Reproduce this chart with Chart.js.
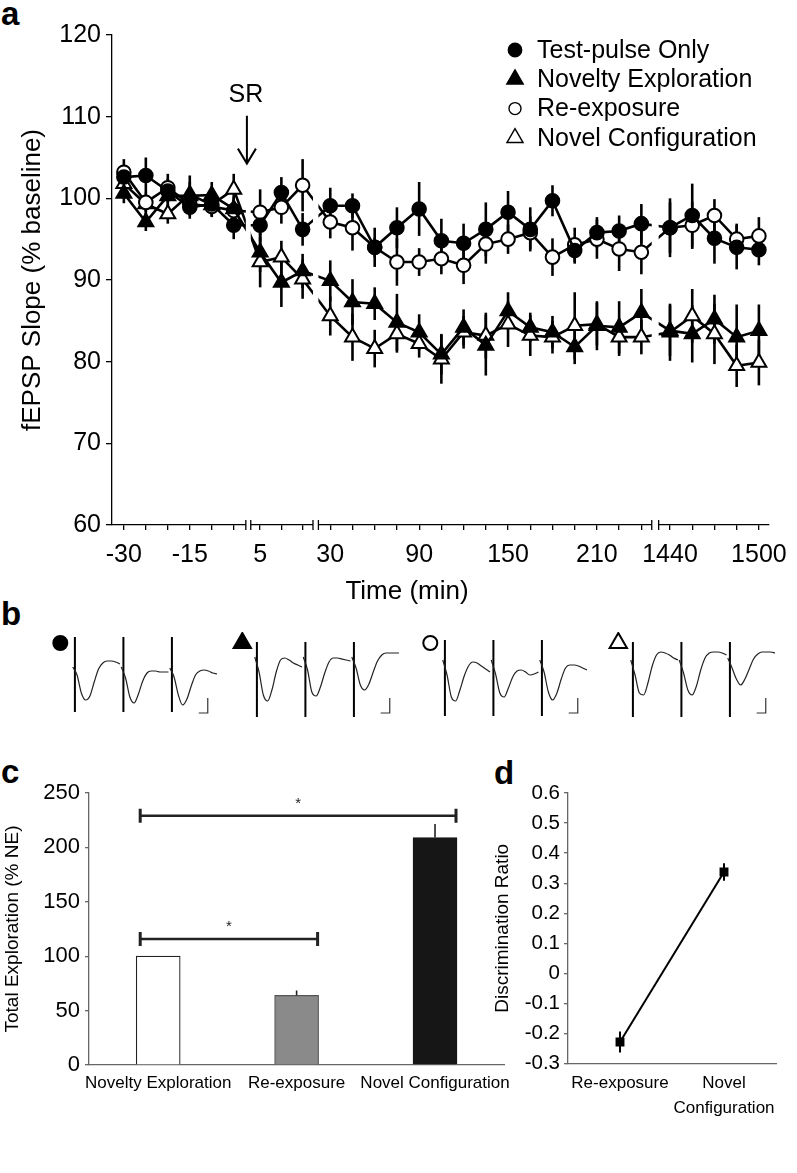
<!DOCTYPE html>
<html>
<head>
<meta charset="utf-8">
<script src="https://cdn.jsdelivr.net/npm/chart.js@4.4.1/dist/chart.umd.min.js"></script>
<style>
  body { margin: 0; background: #fff; width: 797px; height: 1173px; position: relative; overflow: hidden;
         font-family: "Liberation Sans", Arial, sans-serif; }
  canvas { position: absolute; }
  .lab { position: absolute; font-weight: bold; font-size: 33px; line-height: 33px; color: #000; }
</style>
</head>
<body>
<div class="lab" style="left:1px;top:-3px">a</div>
<div class="lab" style="left:1px;top:597px">b</div>
<div class="lab" style="left:1px;top:755px">c</div>
<div class="lab" style="left:494px;top:756px">d</div>

<canvas id="chartA" style="left:0;top:0" width="797" height="610"></canvas>
<canvas id="trace1" style="left:47px;top:632px" width="176" height="90"></canvas>
<canvas id="trace2" style="left:229px;top:632px" width="176" height="90"></canvas>
<canvas id="trace3" style="left:417px;top:632px" width="176" height="90"></canvas>
<canvas id="trace4" style="left:605px;top:632px" width="176" height="90"></canvas>
<canvas id="chartC" style="left:0;top:760px" width="520" height="340"></canvas>
<canvas id="chartD" style="left:470px;top:760px" width="327" height="380"></canvas>

<script>
const FONT = '"Liberation Sans", Arial, sans-serif';
Chart.defaults.font.family = FONT;
Chart.defaults.color = '#000';
Chart.defaults.animation = false;

// ---- panel a: fEPSP slope over time ----
const times = [-30, -25, -20, -15, -10, -5, 5, 10, 15,
  30, 45, 60, 75, 90, 105, 120, 135, 150, 165, 180, 195, 210, 225, 240,
  1440, 1455, 1470, 1485, 1500];

const testPulse    = [102.6, 102.8, 100.9, 98.9, 99.3, 96.7, 96.7, 100.7, 96.2,
  99.1, 99.1, 94.0, 96.4, 98.7, 94.8, 94.5, 96.2, 98.3, 96.2, 99.7, 93.6, 95.8, 96.0, 96.9,
  96.4, 97.9, 95.1, 94.0, 93.7];
const testPulseErr = [1.5, 2.2, 1.5, 1.4, 1.3, 1.7, 2.0, 1.9, 2.0,
  2.2, 1.5, 1.2, 2.5, 3.3, 2.7, 2.4, 3.3, 2.6, 2.7, 1.9, 1.6, 1.9, 1.9, 2.4,
  3.1, 3.9, 3.1, 2.7, 1.9];

const noveltyExp    = [100.6, 97.1, 100.3, 100.3, 100.4, 98.7, 93.4, 89.7, 91.1,
  89.9, 87.3, 87.1, 84.8, 83.6, 80.9, 84.2, 82.0, 86.2, 84.2, 83.6, 81.8, 84.4, 84.2, 86.0,
  83.8, 83.4, 85.2, 83.0, 83.8];
const noveltyExpErr = [1.2, 1.1, 1.3, 2.5, 1.6, 1.5, 2.4, 3.0, 2.1,
  2.5, 2.8, 2.0, 3.5, 2.2, 2.5, 2.2, 3.7, 2.3, 1.8, 2.0, 2.1, 3.0, 3.2, 2.9,
  3.1, 3.5, 3.0, 4.0, 3.2];

const reExposure    = [103.2, 99.5, 101.3, 99.3, 99.0, 98.5, 98.3, 98.9, 101.6,
  97.1, 96.4, 94.0, 92.2, 92.2, 92.6, 91.8, 94.4, 95.0, 95.8, 92.8, 94.3, 95.0, 93.8, 93.4,
  96.4, 96.7, 97.9, 95.0, 95.4];
const reExposureErr = [1.6, 1.2, 1.7, 1.2, 1.2, 1.2, 2.8, 2.0, 3.2,
  2.0, 2.8, 2.4, 2.9, 1.7, 1.9, 2.3, 2.4, 1.8, 2.0, 2.3, 2.1, 2.4, 2.7, 2.7,
  3.6, 2.9, 2.0, 1.9, 2.3];

const novelConfig    = [101.8, 99.3, 98.1, 100.5, 99.2, 101.1, 92.2, 92.8, 90.1,
  85.6, 83.0, 81.6, 83.4, 82.2, 80.3, 83.6, 83.2, 84.6, 83.2, 83.0, 84.4, 84.6, 83.0, 83.0,
  83.6, 85.6, 83.4, 79.5, 79.9];
const novelConfigErr = [1.5, 1.2, 1.2, 1.5, 1.5, 1.9, 3.1, 2.0, 2.4,
  2.4, 2.9, 2.3, 2.3, 1.7, 3.0, 2.0, 2.8, 2.8, 2.5, 2.0, 4.1, 2.6, 2.3, 2.1,
  3.5, 3.3, 3.7, 2.6, 2.8];

const tickTimes = [-30, -25, -20, -15, -10, -5, 5, 10, 15,
  30, 45, 60, 75, 90, 105, 120, 135, 150, 165, 180, 195, 210, 225, 240,
  1440, 1455, 1470, 1485, 1500];
const labelledTimes = [-30, -15, 5, 30, 90, 150, 210, 1440, 1500];
const srTime = -2;

// broken time axis: each piece has its own scale
const segments = [
  { from: -30, to: -2, start: 124, perMin: 4.45 },
  { from: 5, to: 15, start: 262, perMin: 4.3 },
  { from: 30, to: 240, start: 333, perMin: 1.5 },
  { from: 1440, to: 1500, start: 677, perMin: 1.5 }
];
const breakGaps = [[247.5, 252.5], [315.5, 321], [658.5, 665.5]];

function tpos(t) {
  const s = segments.find(s => t >= s.from && t <= s.to);
  return s.start + (t - s.from) * s.perMin;
}

const seriesA = [
  { label: 'Test-pulse Only', values: testPulse, err: testPulseErr, style: 'circle', fill: '#000' },
  { label: 'Novelty Exploration', values: noveltyExp, err: noveltyExpErr, style: 'triangle', fill: '#000' },
  { label: 'Re-exposure', values: reExposure, err: reExposureErr, style: 'circle', fill: '#fff' },
  { label: 'Novel Configuration', values: novelConfig, err: novelConfigErr, style: 'triangle', fill: '#fff' }
];

const errorBarsA = {
  id: 'errorBarsA',
  beforeDatasetsDraw(chart) {
    const { ctx, scales: { y } } = chart;
    ctx.save();
    ctx.strokeStyle = '#000';
    ctx.lineWidth = 2.6;
    chart.data.datasets.forEach((ds, di) => {
      chart.getDatasetMeta(di).data.forEach((pt, i) => {
        const v = ds.data[i].y, e = ds.errors[i];
        ctx.beginPath();
        ctx.moveTo(pt.x, y.getPixelForValue(v + e));
        ctx.lineTo(pt.x, y.getPixelForValue(v - e));
        ctx.stroke();
      });
    });
    ctx.restore();
  }
};

const brokenAxis = {
  id: 'brokenAxis',
  afterDatasetsDraw(chart) {
    const { ctx, chartArea, scales: { x, y } } = chart;
    const top = y.getPixelForValue(104);
    ctx.save();
    ctx.fillStyle = '#fff';
    breakGaps.forEach(([a, b]) => {
      const xa = x.getPixelForValue(a), xb = x.getPixelForValue(b);
      ctx.fillRect(xa, top, xb - xa, chartArea.bottom + 2 - top);
    });
    ctx.strokeStyle = '#000';
    ctx.lineWidth = 1.3;
    breakGaps.forEach(gap => {
      gap.forEach(v => {
        const px = x.getPixelForValue(v);
        ctx.beginPath();
        ctx.moveTo(px, chartArea.bottom - 5);
        ctx.lineTo(px, chartArea.bottom + 5);
        ctx.stroke();
      });
    });
    ctx.restore();
  }
};

const extrasA = {
  id: 'extrasA',
  afterDraw(chart) {
    const { ctx, chartArea, scales: { x, y } } = chart;
    ctx.save();
    // legend
    ctx.font = '25px ' + FONT;
    ctx.textBaseline = 'middle';
    const radii = [6.7, 9.5, 6, 9.3];
    chart.data.datasets.forEach((ds, i) => {
      const yy = 50 + i * 29.3;
      ctx.fillStyle = ds.pointBackgroundColor;
      ctx.strokeStyle = '#000';
      ctx.lineWidth = 1.4;
      Chart.helpers.drawPoint(ctx, { pointStyle: ds.pointStyle, radius: radii[i], borderWidth: 1.4, rotation: 0 }, 515, yy);
      ctx.fillStyle = '#000';
      ctx.fillText(ds.label, 537, yy + 1);
    });
    // SR marker
    const xs = x.getPixelForValue(tpos(srTime));
    ctx.textAlign = 'center';
    ctx.fillText('SR', xs - 1, y.getPixelForValue(112.7));
    const y1 = y.getPixelForValue(110.1), y2 = y.getPixelForValue(104.25);
    ctx.lineWidth = 2;
    ctx.beginPath();
    ctx.moveTo(xs, y1); ctx.lineTo(xs, y2);
    ctx.moveTo(xs - 9, y2 - 15); ctx.lineTo(xs, y2); ctx.lineTo(xs + 9, y2 - 15);
    ctx.stroke();
    // x axis title
    ctx.font = '26px ' + FONT;
    ctx.fillText('Time (min)', chartArea.left + 295, 592);
    ctx.restore();
  }
};

new Chart(document.getElementById('chartA'), {
  type: 'line',
  data: {
    datasets: seriesA.map(s => ({
      label: s.label,
      data: times.map((t, i) => ({ x: tpos(t), y: s.values[i] })),
      errors: s.err,
      borderColor: '#000',
      borderWidth: 2.6,
      pointStyle: s.style,
      pointRadius: s.style === 'circle' ? 6.8 : 8.6,
      pointBackgroundColor: s.fill,
      pointBorderColor: '#000',
      pointBorderWidth: 2,
      tension: 0
    }))
  },
  options: {
    responsive: false,
    events: [],
    layout: { padding: { top: 35, right: 20, left: 0, bottom: 0 } },
    plugins: { legend: { display: false }, tooltip: { enabled: false } },
    scales: {
      x: {
        type: 'linear', min: 112, max: 777,
        afterBuildTicks: scale => { scale.ticks = tickTimes.map(t => ({ value: tpos(t) })); },
        afterFit: scale => { scale.height = 85; },
        ticks: {
          autoSkip: false, maxRotation: 0, padding: 10,
          font: { size: 25 },
          callback: (v, i) => labelledTimes.includes(tickTimes[i]) ? String(tickTimes[i]) : ''
        },
        grid: { drawOnChartArea: false, tickLength: 5, color: '#000', lineWidth: 1.3 },
        border: { color: '#000', width: 1.3 }
      },
      y: {
        min: 60, max: 120,
        afterFit: scale => { scale.width = 112; },
        ticks: { stepSize: 10, padding: 5, font: { size: 25 } },
        grid: { drawOnChartArea: false, tickLength: 6, color: '#000', lineWidth: 1.3 },
        border: { color: '#000', width: 1.3 },
        title: { display: true, text: 'fEPSP Slope (% baseline)', font: { size: 26 }, padding: { top: 17, bottom: 0 } }
      }
    }
  },
  plugins: [errorBarsA, brokenAxis, extrasA]
});

// ---- panel b: example sweeps (baseline, early, 24 h) per group, in mV ----
const tracesTestPulse = [
  [-0.35, -0.75, -1.65, -2.0, -1.8, -1.1, -0.45, -0.15, -0.05, -0.05, -0.1, -0.2],
  [-0.35, -0.9, -1.85, -2.15, -1.7, -1.05, -0.65, -0.55, -0.55, -0.6, -0.6, -0.6],
  [-0.4, -0.85, -1.75, -2.25, -1.95, -1.3, -0.75, -0.55, -0.5, -0.55, -0.65, -0.7]
];
const tracesNovelty = [
  [0.15, -0.6, -1.75, -2.05, -1.5, -0.6, 0, 0.1, 0, -0.15, -0.25, -0.35],
  [0.15, -0.5, -1.6, -1.8, -1.35, -0.65, -0.1, 0.1, 0.1, 0.05, 0, -0.05],
  [0.15, -0.4, -1.25, -1.5, -1.2, -0.6, -0.05, 0.25, 0.35, 0.35, 0.35, 0.35]
];
const tracesReExposure = [
  [0, -0.75, -1.85, -2.05, -1.5, -0.8, -0.3, -0.1, -0.15, -0.3, -0.45, -0.6],
  [0, -0.7, -1.65, -1.85, -1.4, -0.85, -0.55, -0.5, -0.6, -0.75, -0.7, -0.6],
  [0, -0.6, -1.6, -2.0, -1.65, -0.95, -0.4, -0.25, -0.25, -0.3, -0.4, -0.5]
];
const tracesNovelConfig = [
  [0, -0.75, -1.65, -1.75, -1.15, -0.3, 0.25, 0.4, 0.35, 0.25, 0.1, 0],
  [0, -0.65, -1.5, -1.75, -1.3, -0.5, 0.1, 0.35, 0.4, 0.4, 0.35, 0.25],
  [0.1, -0.4, -0.95, -1.25, -0.95, -0.45, 0.05, 0.3, 0.4, 0.4, 0.4, 0.35]
];
const artifactTop = [1.15, 0.9, 1.0, 0.9];
const artifactBottom = [-2.6, -2.85, -2.8, -2.85];
const sampleMs = 1;
const sweepStrideMs = 11.3;
const artifactMs = 0.5;
const scaleBarMs = 2.1;
const scaleBarMv = 0.75;

const traceExtras = {
  id: 'traceExtras',
  afterDraw(chart, args, opts) {
    const { ctx, scales: { x, y } } = chart;
    ctx.save();
    ctx.fillStyle = opts.fill;
    ctx.strokeStyle = '#000';
    ctx.lineWidth = 2;
    Chart.helpers.drawPoint(ctx, { pointStyle: opts.style, radius: opts.style === 'circle' ? 7 : 10, borderWidth: 2, rotation: 0 },
      x.getPixelForValue(-2.9), y.getPixelForValue(0.85));
    // scale bar
    const bx = x.getPixelForValue(31.45), by = y.getPixelForValue(-2.65);
    ctx.strokeStyle = '#333';
    ctx.lineWidth = 1.2;
    ctx.beginPath();
    ctx.moveTo(bx, y.getPixelForValue(-2.65 + scaleBarMv));
    ctx.lineTo(bx, by);
    ctx.lineTo(x.getPixelForValue(31.45 - scaleBarMs), by);
    ctx.stroke();
    ctx.restore();
  }
};

function traceChart(id, sweeps, k, style, fill) {
  const datasets = sweeps.map((sw, s) => ({
    data: sw.map((a, i) => ({ x: s * sweepStrideMs + i * sampleMs, y: a })),
    borderColor: '#222', borderWidth: 1.2, pointRadius: 0, cubicInterpolationMode: 'monotone'
  }));
  const art = [];
  sweeps.forEach((sw, s) => {
    const ax = s * sweepStrideMs + artifactMs;
    art.push({ x: ax, y: artifactTop[k] }, { x: ax, y: artifactBottom[k] }, { x: ax, y: null });
  });
  datasets.push({ data: art, borderColor: '#000', borderWidth: 2, pointRadius: 0, spanGaps: false });
  new Chart(document.getElementById(id), {
    type: 'line',
    data: { datasets },
    options: {
      responsive: false, events: [],
      layout: { padding: 0 },
      plugins: { legend: { display: false }, tooltip: { enabled: false }, traceExtras: { style, fill } },
      scales: {
        x: { type: 'linear', display: false, min: -6, max: 35 },
        y: { display: false, min: -3.1, max: 1.4 }
      }
    },
    plugins: [traceExtras]
  });
}
traceChart('trace1', tracesTestPulse, 0, 'circle', '#000');
traceChart('trace2', tracesNovelty, 1, 'triangle', '#000');
traceChart('trace3', tracesReExposure, 2, 'circle', '#fff');
traceChart('trace4', tracesNovelConfig, 3, 'triangle', '#fff');

// ---- panel c: total exploration ----
const exploreGroups = ['Novelty Exploration', 'Re-exposure', 'Novel Configuration'];
const exploreValues = [100, 64, 209];
const exploreErr = [0, 4.5, 12.5];
const sigFrom = [0, 0];
const sigTo = [2, 1];
const sigLevel = [229, 115.8];

const barExtras = {
  id: 'barExtras',
  afterDatasetsDraw(chart) {
    const { ctx, scales: { x, y } } = chart;
    ctx.save();
    ctx.strokeStyle = '#222';
    ctx.lineWidth = 1.6;
    chart.getDatasetMeta(0).data.forEach((bar, i) => {
      if (!exploreErr[i]) return;
      ctx.beginPath();
      ctx.moveTo(bar.x, y.getPixelForValue(exploreValues[i]));
      ctx.lineTo(bar.x, y.getPixelForValue(exploreValues[i] + exploreErr[i]));
      ctx.stroke();
    });
    ctx.fillStyle = '#222';
    ctx.font = '15px ' + FONT;
    ctx.textAlign = 'center';
    ctx.textBaseline = 'middle';
    sigFrom.forEach((f, k) => {
      const x1 = x.getPixelForValue(f) - 18, x2 = x.getPixelForValue(sigTo[k]) + 21;
      const yy = y.getPixelForValue(sigLevel[k]);
      ctx.lineWidth = 2.5;
      ctx.beginPath(); ctx.moveTo(x1, yy); ctx.lineTo(x2, yy); ctx.stroke();
      ctx.lineWidth = 3;
      ctx.beginPath();
      ctx.moveTo(x1, yy - 7); ctx.lineTo(x1, yy + 7);
      ctx.moveTo(x2, yy - 7); ctx.lineTo(x2, yy + 7);
      ctx.stroke();
      ctx.fillText('*', (x1 + x2) / 2, yy - 12);
    });
    ctx.restore();
  }
};

new Chart(document.getElementById('chartC'), {
  type: 'bar',
  data: {
    labels: exploreGroups,
    datasets: [{
      data: exploreValues,
      backgroundColor: ['#ffffff', '#8a8a8a', '#161616'],
      borderColor: ['#222', '#555', '#161616'],
      borderWidth: 1.2,
      barThickness: 44
    }]
  },
  options: {
    responsive: false, events: [],
    layout: { padding: { top: 33, right: 14, left: 0, bottom: 0 } },
    plugins: { legend: { display: false }, tooltip: { enabled: false } },
    scales: {
      x: {
        afterFit: scale => { scale.height = 35; },
        ticks: { padding: 8, maxRotation: 0, autoSkip: false, font: { size: 17 } },
        grid: { display: false, drawTicks: false },
        border: { color: '#666', width: 1.3 }
      },
      y: {
        min: 0, max: 250,
        afterFit: scale => { scale.width = 89; },
        ticks: { stepSize: 50, padding: 5, font: { size: 22 } },
        grid: { drawOnChartArea: false, tickLength: 4, color: '#666', lineWidth: 1.3 },
        border: { color: '#666', width: 1.3 },
        title: { display: true, text: 'Total Exploration (% NE)', font: { size: 19 }, padding: { top: 1, bottom: 0 } }
      }
    }
  },
  plugins: [barExtras]
});

// ---- panel d: discrimination ratio ----
const ratioGroups = ['Re-exposure', ['Novel', 'Configuration']];
const ratioValues = [-0.228, 0.337];
const ratioErr = [0.035, 0.029];

const ratioErrors = {
  id: 'ratioErrors',
  beforeDatasetsDraw(chart) {
    const { ctx, scales: { y } } = chart;
    ctx.save();
    ctx.strokeStyle = '#000';
    ctx.lineWidth = 2;
    chart.getDatasetMeta(0).data.forEach((pt, i) => {
      ctx.beginPath();
      ctx.moveTo(pt.x, y.getPixelForValue(ratioValues[i] + ratioErr[i]));
      ctx.lineTo(pt.x, y.getPixelForValue(ratioValues[i] - ratioErr[i]));
      ctx.stroke();
    });
    ctx.restore();
  }
};

new Chart(document.getElementById('chartD'), {
  type: 'line',
  data: {
    labels: ratioGroups,
    datasets: [{
      data: ratioValues,
      borderColor: '#000', borderWidth: 2,
      pointStyle: 'rect', pointRadius: 6.3,
      pointBackgroundColor: '#000', pointBorderColor: '#000', pointBorderWidth: 0
    }]
  },
  options: {
    responsive: false, events: [],
    layout: { padding: { top: 33, right: 21, left: 0, bottom: 0 } },
    plugins: { legend: { display: false }, tooltip: { enabled: false } },
    scales: {
      x: {
        offset: true,
        afterFit: scale => { scale.height = 76.4; },
        ticks: { padding: 7, maxRotation: 0, autoSkip: false, font: { size: 17, lineHeight: 1.47 } },
        grid: { display: false, drawTicks: false },
        border: { color: '#666', width: 1.3 }
      },
      y: {
        min: -0.3, max: 0.6,
        afterFit: scale => { scale.width = 98; },
        ticks: {
          stepSize: 0.1, padding: 4, font: { size: 20.5 },
          callback: v => Math.abs(v) < 1e-9 ? '0' : v.toFixed(1)
        },
        grid: { drawOnChartArea: false, tickLength: 4, color: '#666', lineWidth: 1.3 },
        border: { color: '#666', width: 1.3 },
        title: { display: true, text: 'Discrimination Ratio', font: { size: 19 }, padding: { top: 21.6, bottom: 0 } }
      }
    }
  },
  plugins: [ratioErrors]
});
</script>
</body>
</html>
